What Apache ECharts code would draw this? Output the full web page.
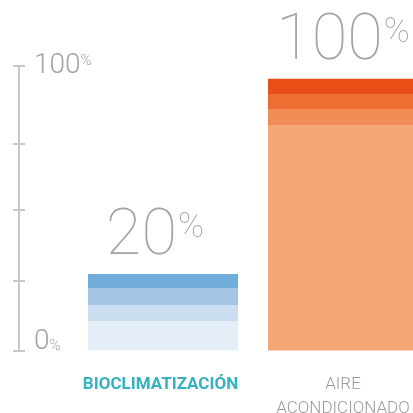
<!DOCTYPE html>
<html>
<head>
<meta charset="utf-8">
<script src="https://cdn.jsdelivr.net/npm/echarts@6/dist/echarts.min.js"></script>
<style>
  html, body { margin: 0; padding: 0; background: #fff; }
  #chart { width: 413px; height: 413px; }
</style>
</head>
<body>
<div id="chart"></div>
<script>
// categorías
const categories = ['BIOCLIMATIZACIÓN', 'AIRE\nACONDICIONADO']
// etiquetas grandes encima de cada barra
const totalLabels = ['20', '100']
// capas apiladas (de abajo arriba), en unidades del eje 0-100
const layer1 = [10.4, 79.3]
const layer2 = [5.6, 5.3]
const layer3 = [6.0, 5.6]
const layer4 = [4.9, 5.3]
// marcas del eje
const tickValues = [0, 24.4, 49.4, 72.6, 100]
const axisLabelValues = [0, 100]

const layers = [layer1, layer2, layer3, layer4]

// colores por categoría y capa
const palette = [
  ['#e5eef8', '#cbdef0', '#a3c6e5', '#70adda'],
  ['#f4a878', '#f08c55', '#ec6e31', '#e84e15']
]

const chart = echarts.init(document.getElementById('chart'))

const font = 'Roboto, sans-serif'
const grey = '#a3a3a3'

const series = layers.map((values, li) => ({
  type: 'bar',
  stack: 'total',
  barWidth: 150,
  data: values,
  itemStyle: {
    color: p => palette[p.dataIndex][li]
  },
  label: li === layers.length - 1 ? {
    show: true,
    position: 'top',
    distance: 4,
    // la primera etiqueta va un poco desplazada a la izquierda
    formatter: p => '{n|' + totalLabels[p.dataIndex] + '}{p|%}' + (p.dataIndex === 0 ? '{s|}' : ''),
    rich: {
      n: { fontSize: 65, fontWeight: 100, fontFamily: font, color: grey, lineHeight: 65 },
      p: { fontSize: 35, fontWeight: 100, fontFamily: font, color: grey, lineHeight: 35, verticalAlign: 'top', padding: [6, 0, 0, 1] },
      s: { width: 16, lineHeight: 65, padding: [0, 0, 6, 0] }
    }
  } : { show: false }
}))

const yBase = {
  type: 'value',
  min: 0,
  max: 100,
  position: 'left',
  offset: 54,
  splitLine: { show: false }
}

chart.setOption({
  animation: false,
  grid: { left: 73, width: 360, top: 66, bottom: 62.5, outerBoundsMode: 'none' },
  xAxis: {
    type: 'category',
    data: categories,
    axisLine: { show: false },
    axisTick: { show: false },
    axisLabel: {
      margin: 22,
      formatter: (v, i) => i === 0 ? '{a|' + v + '}' : '{b|' + v.split('\n').join('}\n{b|') + '}',
      rich: {
        a: { fontSize: 17, fontWeight: 'bold', fontFamily: font, color: '#35b1c0', lineHeight: 24, padding: [0, 5, 0, 0] },
        b: { fontSize: 17, fontWeight: 300, fontFamily: font, color: '#9a9a9a', lineHeight: 24 }
      }
    }
  },
  yAxis: [
    Object.assign({}, yBase, {
      axisLine: { show: true, lineStyle: { color: '#c8c8c8', width: 2 } },
      axisTick: { show: true, inside: true, length: 6, customValues: tickValues, lineStyle: { color: '#c8c8c8', width: 2 } },
      axisLabel: {
        inside: true,
        margin: 15,
        customValues: axisLabelValues,
        formatter: v => v === 0 ? '{z|0}{zp|%}' : '{n|' + v + '}{p|%}',
        rich: {
          n: { fontSize: 28, fontWeight: 300, fontFamily: font, color: grey, lineHeight: 28 },
          p: { fontSize: 15, fontWeight: 300, fontFamily: font, color: grey, lineHeight: 15, verticalAlign: 'top', padding: [2, 0, 0, 0] },
          z: { fontSize: 28, fontWeight: 300, fontFamily: font, color: grey, lineHeight: 28, padding: [0, 0, 18, 0] },
          zp: { fontSize: 15, fontWeight: 300, fontFamily: font, color: grey, lineHeight: 15, verticalAlign: 'top', padding: [2, 0, 0, 0] }
        }
      }
    }),
    Object.assign({}, yBase, {
      axisLine: { show: false },
      axisTick: { show: true, inside: false, length: 6, customValues: tickValues, lineStyle: { color: '#c8c8c8', width: 2 } },
      axisLabel: { show: false }
    })
  ],
  series: series
})
</script>
</body>
</html>
